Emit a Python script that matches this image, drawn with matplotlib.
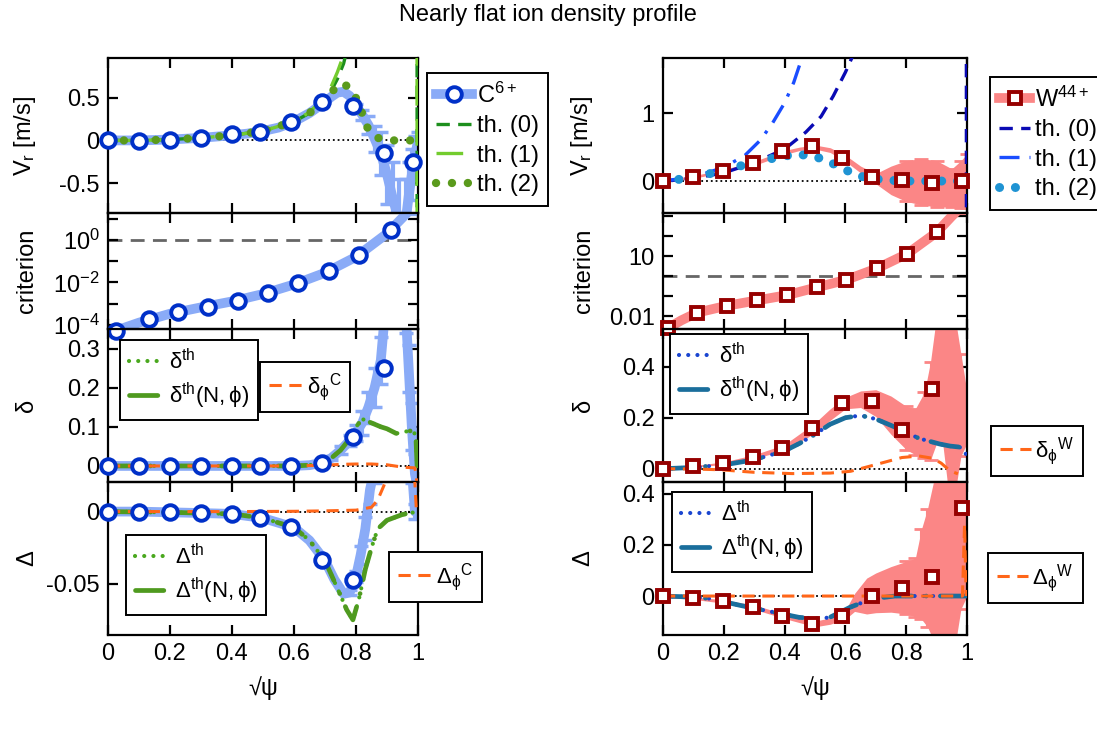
import matplotlib
matplotlib.use("Agg")
import matplotlib.pyplot as plt
from matplotlib.lines import Line2D

plt.rcParams['font.family'] = ['Liberation Sans', 'DejaVu Sans']
plt.rcParams['mathtext.fontset'] = 'custom'
plt.rcParams['mathtext.rm'] = 'Liberation Sans'
plt.rcParams['mathtext.it'] = 'Liberation Sans:italic'
plt.rcParams['mathtext.bf'] = 'Liberation Sans:bold'

FS = 17
LFS = 16

# ---------------- data : carbon (left) ----------------
c_mx = [0, 0.1, 0.2, 0.3, 0.4, 0.49, 0.59, 0.69, 0.79, 0.89, 0.985]
c_vr_m = [0, -0.005, 0.005, 0.03, 0.07, 0.10, 0.22, 0.45, 0.40, -0.145, -0.25]

c_sx = [0, 0.1, 0.2, 0.3, 0.4, 0.45, 0.5, 0.55, 0.6, 0.65, 0.7, 0.72, 0.74, 0.76,
        0.78, 0.8, 0.82, 0.84, 0.86, 0.88, 0.9, 0.92, 0.94, 0.96, 0.97, 0.98, 0.99, 1.0]
c_vr_s = [0, 0, 0.01, 0.03, 0.06, 0.08, 0.11, 0.15, 0.22, 0.32, 0.45, 0.51, 0.56, 0.57,
          0.52, 0.40, 0.30, 0.18, 0.02, -0.15, -0.40, -0.70, -0.95, -0.95, -0.65, -0.40, -0.20, 0.0]
c_vr_e = [0, 0, 0, 0, 0, 0, 0, 0, 0, 0, 0, 0, 0, 0,
          0, 0.03, 0.06, 0.10, 0.15, 0.25, 0.35, 0.45, 0.5, 0.5, 0.4, 0.3, 0.25, 0.1]

c_th_x = [0, 0.1, 0.2, 0.3, 0.4, 0.5, 0.6, 0.65, 0.7, 0.72, 0.74, 0.76, 0.8, 0.9, 0.996, 0.998]
c_th0 = [0, 0.0, 0.01, 0.03, 0.06, 0.11, 0.22, 0.32, 0.48, 0.58, 0.72, 0.90, 1.5, 4.0, 20.0, -20.0]
c_th1 = [0, 0.0, 0.01, 0.03, 0.06, 0.11, 0.22, 0.33, 0.51, 0.63, 0.80, 1.0, 1.7, 4.5, 20.0, -20.0]
c_th2_x = [0, 0.1, 0.2, 0.3, 0.4, 0.5, 0.6, 0.65, 0.7, 0.73, 0.76, 0.79, 0.81, 0.835, 0.86, 0.9, 0.95, 1.0]
c_th2 = [0, 0.0, 0.01, 0.03, 0.06, 0.11, 0.22, 0.32, 0.48, 0.60, 0.67, 0.57, 0.42, 0.16, 0.04, 0.0, 0.0, 0.0]

c_cr_mx = [0.025, 0.133, 0.227, 0.322, 0.418, 0.515, 0.612, 0.712, 0.81, 0.914]
c_cr_m = [-4.28, -3.75, -3.41, -3.14, -2.86, -2.49, -2.04, -1.48, -0.69, 0.48]   # log10
c_cr_sx = [0, 0.025, 0.1, 0.2, 0.3, 0.4, 0.5, 0.6, 0.7, 0.8, 0.9, 0.94, 0.97, 1.0]
c_cr_s = [-4.4, -4.28, -3.9, -3.48, -3.18, -2.9, -2.55, -2.1, -1.55, -0.8, 0.3, 0.9, 1.35, 1.35]

c_d_mx = [0, 0.1, 0.2, 0.3, 0.4, 0.49, 0.59, 0.69, 0.79, 0.89]
c_d_m = [0, 0, 0, 0, 0, 0, 0, 0.0075, 0.075, 0.25]
c_d_sx = [0, 0.1, 0.2, 0.3, 0.4, 0.5, 0.6, 0.65, 0.69, 0.72, 0.75, 0.78, 0.8, 0.82, 0.84,
          0.86, 0.88, 0.9, 0.95, 0.96, 0.97, 0.98, 0.99, 1.0]
c_d_s = [0, 0, 0, 0, 0, 0, 0.0, 0.002, 0.008, 0.02, 0.04, 0.065, 0.085, 0.11, 0.15,
         0.20, 0.27, 0.45, 0.45, 0.40, 0.25, 0.10, -0.02, -0.06]
c_d_e = [0, 0, 0, 0, 0, 0, 0, 0, 0, 0.005, 0.01, 0.015, 0.02, 0.03, 0.04,
         0.05, 0.06, 0.06, 0.06, 0.06, 0.06, 0.06, 0.05, 0.03]
c_dth_x = [0, 0.2, 0.4, 0.6, 0.65, 0.69, 0.72, 0.75, 0.78, 0.8, 0.82, 0.85, 0.88, 0.9,
           0.93, 0.96, 0.98, 0.993, 0.997]
c_dth = [0, 0, 0, 0, 0.002, 0.008, 0.02, 0.04, 0.07, 0.10, 0.12, 0.11, 0.10, 0.095,
         0.083, 0.088, 0.09, 0.08, 0.0]
c_dph_x = [0, 0.2, 0.4, 0.6, 0.7, 0.75, 0.8, 0.85, 0.9, 0.95, 0.99, 0.995, 1.0]
c_dph = [0, 0, 0, 0, 0.002, 0.004, 0.005, 0.005, 0.003, -0.003, -0.005, -0.03, -0.1]

c_D_mx = [0, 0.1, 0.2, 0.3, 0.4, 0.49, 0.59, 0.69, 0.79]
c_D_m = [0, 0, -0.0005, -0.001, -0.0016, -0.0042, -0.0109, -0.0337, -0.0477]
c_D_sx = [0, 0.1, 0.2, 0.3, 0.4, 0.5, 0.6, 0.65, 0.7, 0.73, 0.76, 0.78, 0.8, 0.815,
          0.83, 0.845, 0.86, 0.98, 0.99, 1.0]
c_D_s = [0, 0, -0.0005, -0.001, -0.0016, -0.0045, -0.011, -0.02, -0.034, -0.047, -0.057,
         -0.056, -0.045, -0.030, -0.012, 0.015, 0.03, 0.03, 0.0, 0.0]
c_D_e = [0, 0, 0, 0, 0, 0, 0, 0, 0, 0, 0, 0.002, 0.004, 0.006, 0.008, 0.01, 0.01, 0.01, 0.005, 0.0]
c_Dth_x = [0, 0.2, 0.4, 0.5, 0.6, 0.65, 0.7, 0.75, 0.77, 0.79, 0.81, 0.83, 0.85, 0.87,
           0.9, 0.95, 1.0]
c_Dth = [0, -0.0005, -0.0016, -0.0045, -0.011, -0.02, -0.034, -0.058, -0.068, -0.075,
         -0.06, -0.04, -0.025, -0.012, -0.006, -0.002, 0.0]
c_Dph_x = [0, 0.2, 0.4, 0.6, 0.7, 0.8, 0.85, 0.87, 0.89, 0.91, 0.985, 0.99, 0.995]
c_Dph = [0, 0, 0, 0.0002, 0.0005, 0.001, 0.003, 0.008, 0.018, 0.03, 0.03, 0.02, 0.0]

# ---------------- data : tungsten (right) ----------------
w_mx = [0, 0.098, 0.197, 0.295, 0.393, 0.49, 0.589, 0.686, 0.786, 0.885, 0.983]
w_vr_m = [0, 0.065, 0.15, 0.26, 0.44, 0.51, 0.34, 0.065, 0.015, -0.035, 0.0]
w_vr_bx = [0, 0.1, 0.2, 0.3, 0.4, 0.45, 0.5, 0.55, 0.6, 0.65, 0.7, 0.75, 0.8, 0.85,
           0.9, 0.95, 0.98, 1.0]
w_vr_hi = [0.02, 0.08, 0.17, 0.29, 0.45, 0.50, 0.53, 0.49, 0.38, 0.22, 0.11, 0.22, 0.30,
           0.33, 0.30, 0.18, 0.30, 0.40]
w_vr_lo = [-0.02, 0.04, 0.13, 0.23, 0.39, 0.45, 0.47, 0.42, 0.29, 0.12, -0.04, -0.20,
           -0.30, -0.35, -0.38, -0.38, -0.40, -0.40]
w_th0_x = [0, 0.1, 0.2, 0.3, 0.4, 0.47, 0.52, 0.56, 0.6, 0.625, 0.7, 0.9, 0.997, 0.999]
w_th0 = [0, 0.04, 0.12, 0.27, 0.47, 0.72, 0.95, 1.25, 1.6, 1.85, 3, 8, 20, -20]
w_th1_x = [0, 0.1, 0.2, 0.27, 0.32, 0.36, 0.4, 0.43, 0.46]
w_th1 = [0, 0.06, 0.2, 0.38, 0.6, 0.85, 1.15, 1.45, 1.85]
w_th2_x = [0, 0.042, 0.079, 0.115, 0.155, 0.188, 0.222, 0.262, 0.296, 0.33, 0.366, 0.402,
           0.44, 0.476, 0.513, 0.549, 0.583, 0.622, 0.656, 0.692, 0.73, 0.8, 0.9, 1.0]
w_th2 = [0, 0.015, 0.05, 0.08, 0.11, 0.15, 0.19, 0.23, 0.26, 0.30, 0.34, 0.37, 0.39,
         0.38, 0.34, 0.28, 0.20, 0.12, 0.065, 0.035, 0.015, 0.0, 0.0, 0.0]

w_cr_mx = [0.017, 0.113, 0.21, 0.31, 0.408, 0.506, 0.603, 0.703, 0.803, 0.9]
w_cr_m = [-2.58, -1.81, -1.47, -1.2, -0.94, -0.55, -0.175, 0.39, 1.12, 2.19]   # log10
w_cr_sx = [0, 0.017, 0.06, 0.113, 0.21, 0.31, 0.408, 0.506, 0.603, 0.703, 0.803, 0.9,
           0.95, 0.97, 1.0]
w_cr_s = [-2.8, -2.58, -2.2, -1.81, -1.47, -1.2, -0.94, -0.55, -0.175, 0.39, 1.12,
          2.19, 3.0, 3.3, 3.3]

w_d_mx = [0, 0.098, 0.197, 0.295, 0.393, 0.49, 0.589, 0.686, 0.786, 0.885]
w_d_m = [0, 0.009, 0.022, 0.048, 0.083, 0.161, 0.257, 0.267, 0.151, 0.312]
w_d_bx = [0, 0.1, 0.2, 0.3, 0.4, 0.5, 0.55, 0.6, 0.65, 0.7, 0.75, 0.8, 0.83, 0.86,
          0.88, 0.9, 0.92, 0.94, 0.96, 0.98, 1.0]
w_d_hi = [0, 0.012, 0.027, 0.055, 0.095, 0.18, 0.235, 0.28, 0.305, 0.31, 0.285, 0.245,
          0.235, 0.30, 0.42, 0.60, 0.60, 0.60, 0.60, 0.45, 0.30]
w_d_lo = [0, 0.006, 0.017, 0.04, 0.072, 0.14, 0.19, 0.235, 0.24, 0.205, 0.135, 0.075,
          0.055, 0.042, 0.035, 0.10, 0.10, -0.10, -0.10, 0.05, 0.10]
w_dth_x = [0, 0.1, 0.2, 0.3, 0.4, 0.45, 0.5, 0.549, 0.6, 0.65, 0.7, 0.75, 0.786, 0.842,
           0.91, 0.944, 0.975, 0.99, 1.0]
w_dth = [0, 0.005, 0.015, 0.035, 0.07, 0.10, 0.135, 0.174, 0.20, 0.209, 0.195, 0.17,
         0.151, 0.119, 0.097, 0.089, 0.085, 0.074, 0.048]
w_dph_x = [0, 0.1, 0.188, 0.3, 0.425, 0.55, 0.617, 0.696, 0.786, 0.842, 0.887, 0.915,
           0.944, 0.97]
w_dph = [0, -0.001, -0.004, -0.014, -0.019, -0.017, -0.01, 0.015, 0.044, 0.05, 0.041,
         0.022, -0.008, -0.02]

w_D_mx = [0, 0.098, 0.197, 0.295, 0.393, 0.49, 0.589, 0.686, 0.786, 0.885, 0.983]
w_D_m = [0, -0.008, -0.021, -0.043, -0.079, -0.109, -0.079, 0.0, 0.033, 0.075, 0.344]
w_D_bx = [0, 0.1, 0.2, 0.3, 0.4, 0.5, 0.55, 0.6, 0.63, 0.67, 0.7, 0.75, 0.8, 0.83,
          0.85, 0.87, 0.9, 0.93, 0.96, 0.98, 1.0]
w_D_hi = [0.005, -0.003, -0.015, -0.035, -0.07, -0.098, -0.085, -0.055, 0.01, 0.07,
          0.09, 0.115, 0.135, 0.147, 0.26, 0.34, 0.50, 0.50, 0.50, 0.50, 0.50]
w_D_lo = [-0.005, -0.013, -0.028, -0.052, -0.088, -0.12, -0.11, -0.09, -0.06, -0.07,
          -0.065, -0.063, -0.07, -0.08, -0.09, -0.12, -0.20, -0.20, -0.20, -0.05, 0.0]
w_Dth_x = [0, 0.1, 0.155, 0.256, 0.335, 0.447, 0.515, 0.549, 0.617, 0.65, 0.707, 0.763,
           0.85, 1.0]
w_Dth = [0, -0.004, -0.01, -0.037, -0.056, -0.083, -0.089, -0.083, -0.043, -0.028,
         -0.008, 0.0, 0.0, 0.0]
w_Dph_x = [0, 0.2, 0.4, 0.6, 0.8, 0.9, 0.985, 0.992, 0.997]
w_Dph = [0, 0, 0, 0, 0, 0, 0, 0.28, 0.0]

# ---------------- style ----------------
C_BAND = '#8aabf7'
C_MARK = '#0030c8'
W_BAND = '#fb8686'
W_MARK = '#960000'
ORANGE = '#ff6619'
G_TH0 = '#1d8f1d'
G_TH1 = '#73cc2e'
G_TH2 = '#5a9a1c'
G_DTH = '#4aa81e'
G_DNP = '#4f9a1f'
B_TH0 = '#0a0ab4'
B_TH1 = '#1a4dff'
B_TH2 = '#1f93d3'
B_DTH = '#1a45d0'
B_DNP = '#1a6e9c'

fig = plt.figure(figsize=(10.97, 7.34), dpi=100)
W, H = 1097.0, 734.0


def mkax(x0, x1, y0, y1):
    return fig.add_axes([x0 / W, 1 - y1 / H, (x1 - x0) / W, (y1 - y0) / H])


rows = [(58, 213), (213, 329), (329, 482), (482, 635)]
LX = (108, 418)
RX = (663, 967)

axL = [mkax(LX[0], LX[1], a, b) for a, b in rows]
axR = [mkax(RX[0], RX[1], a, b) for a, b in rows]

for i, ax in enumerate(axL + axR):
    ax.set_xlim(0, 1)
    ax.set_xticks([0, 0.2, 0.4, 0.6, 0.8, 1.0])
    ax.tick_params(direction='in', length=7, width=1.6, top=True, right=True,
                   labelsize=FS, pad=6)
    for s in ax.spines.values():
        s.set_linewidth(1.6)
    if i % 4 == 3:
        ax.set_xticklabels(['0', '0.2', '0.4', '0.6', '0.8', '1'])
    else:
        ax.set_xticklabels([])
    ax.set_facecolor('none')


def zero_line(ax):
    ax.plot([0, 1], [0, 0], ':', color='k', lw=1.3, zorder=1)


def leg(ax, handles, labels, x, y, hl=1.6, ls=0.3, fs=LFS):
    lg = ax.legend(handles, labels, loc='upper left', bbox_to_anchor=(x / W, 1 - y / H),
                   bbox_transform=fig.transFigure, borderaxespad=0, fancybox=False,
                   edgecolor='k', framealpha=1, fontsize=fs, handletextpad=0.2,
                   labelspacing=ls, borderpad=0.4, handlelength=hl)
    lg.get_frame().set_linewidth(1.4)
    return lg


def band_line(ax, x, y, e, color):
    ax.plot(x, y, '-', color=color, lw=7, solid_capstyle='round', zorder=2)
    xs = [a for a, b in zip(x, e) if b > 0]
    ys = [a for a, b in zip(y, e) if b > 0]
    es = [b for b in e if b > 0]
    ax.errorbar(xs, ys, yerr=es, fmt='none', ecolor=color, elinewidth=3, capsize=5,
                capthick=2.5, zorder=2)


def band_fill(ax, x, lo, hi, color):
    ax.fill_between(x, lo, hi, color=color, lw=0, zorder=2)
    mid = [(a + b) / 2 for a, b in zip(lo, hi)]
    err = [(b - a) / 2 for a, b in zip(lo, hi)]
    xs = [a for a in x if a >= 0.8]
    ms = [m for a, m in zip(x, mid) if a >= 0.8]
    es = [m for a, m in zip(x, err) if a >= 0.8]
    ax.errorbar(xs, ms, yerr=es, fmt='none', ecolor=color, elinewidth=1.5, capsize=5,
                capthick=2, zorder=2)


cmk = dict(marker='o', ms=10.5, mfc='white', mec=C_MARK, mew=2.8, ls='none', zorder=5,
           clip_on=False)
wmk = dict(marker='s', ms=8, mfc='white', mec=W_MARK, mew=2.8, ls='none', zorder=5,
           clip_on=False)
dot_c = dict(lw=6, dashes=(0.01, 1.9), dash_capstyle='round')
dot_w = dict(lw=6.5, dashes=(0.01, 1.75), dash_capstyle='round')

# ===== left column =====
ax = axL[0]
zero_line(ax)
band_line(ax, c_sx, c_vr_s, c_vr_e, C_BAND)
ax.plot(c_mx, c_vr_m, **cmk)
ax.plot(c_th_x, c_th0, color=G_TH0, lw=2.4, dashes=(4, 2.5), zorder=3)
ax.plot(c_th_x, c_th1, color=G_TH1, lw=2.4, dashes=(8, 4), zorder=3)
ax.plot(c_th2_x, c_th2, color=G_TH2, zorder=3, **dot_c)
ax.set_ylim(-0.85, 0.965)
ax.set_yticks([-0.5, 0, 0.5])
ax.set_yticklabels(['-0.5', '0', '0.5'])
ax.set_ylabel(r'$\mathrm{V_r\ [m/s]}$', fontsize=FS)
hC = [Line2D([], [], color=C_BAND, lw=7, marker='o', ms=10.5, mfc='white', mec=C_MARK, mew=2.8),
      Line2D([], [], color=G_TH0, lw=2.4, dashes=(4, 2.5)),
      Line2D([], [], color=G_TH1, lw=2.4, dashes=(8, 4)),
      Line2D([], [], color=G_TH2, **dot_c)]
leg(ax, hC, [r'$\mathrm{C^{6+}}$', 'th. (0)', 'th. (1)', 'th. (2)'], 427, 73, hl=1.5, ls=0.32,
    fs=FS)

ax = axL[1]
ax.set_yscale('log')
ax.plot([0, 1], [1, 1], color='#666666', lw=2, dashes=(5, 3), zorder=1)
ax.plot(c_cr_sx, [10 ** v for v in c_cr_s], '-', color=C_BAND, lw=7, zorder=2)
ax.plot(c_cr_mx, [10 ** v for v in c_cr_m], **cmk)
ax.set_ylim(10 ** -4.2, 10 ** 1.27)
ax.set_yticks([1e-4, 1e-3, 1e-2, 1e-1, 1e0, 1e1])
ax.set_yticklabels([r'$\mathrm{10^{-4}}$', '', r'$\mathrm{10^{-2}}$', '', r'$\mathrm{10^{0}}$', ''])
ax.minorticks_off()
ax.set_ylabel('criterion', fontsize=FS)

ax = axL[2]
zero_line(ax)
band_line(ax, c_d_sx, c_d_s, c_d_e, C_BAND)
ax.plot(c_dth_x, c_dth, color=G_DTH, lw=3, dashes=(0.01, 2.2), dash_capstyle='round', zorder=3)
ax.plot(c_dth_x, c_dth, color=G_DNP, lw=3.4, dashes=(6, 3, 0.01, 3), dash_capstyle='round', zorder=3)
ax.plot(c_dph_x, c_dph, color=ORANGE, lw=2.2, dashes=(4, 2.5), zorder=3)
ax.plot(c_d_mx, c_d_m, **cmk)
ax.set_ylim(-0.041, 0.35)
ax.set_yticks([0, 0.1, 0.2, 0.3])
ax.set_yticklabels(['0', '0.1', '0.2', '0.3'])
ax.set_ylabel('δ', fontsize=FS)
h1 = [Line2D([], [], color=G_DTH, lw=3, dashes=(0.01, 2.2), dash_capstyle='round'),
      Line2D([], [], color=G_DNP, lw=3.4, dashes=(6, 3, 0.01, 3), dash_capstyle='round')]
l1 = leg(ax, h1, [r'$\mathrm{δ^{th}}$', r'$\mathrm{δ^{th}(N,ϕ)}$'], 120, 340)
ax.add_artist(l1)
h2 = [Line2D([], [], color=ORANGE, lw=2.2, dashes=(4, 2.5))]
leg(ax, h2, [r'$\mathrm{δ_{ϕ}{}^{C}}$'], 260, 362, hl=1.5)

ax = axL[3]
zero_line(ax)
band_line(ax, c_D_sx, c_D_s, c_D_e, C_BAND)
ax.plot(c_Dth_x, c_Dth, color=G_DTH, lw=3, dashes=(0.01, 2.2), dash_capstyle='round', zorder=3)
ax.plot(c_Dth_x, c_Dth, color=G_DNP, lw=3.4, dashes=(6, 3, 0.01, 3), dash_capstyle='round', zorder=3)
ax.plot(c_Dph_x, c_Dph, color=ORANGE, lw=2.2, dashes=(4, 2.5), zorder=3)
ax.plot(c_D_mx, c_D_m, **cmk)
ax.set_ylim(-0.0855, 0.0205)
ax.set_yticks([-0.05, 0])
ax.set_yticklabels(['-0.05', '0'])
ax.set_ylabel('Δ', fontsize=FS)
l1 = leg(ax, h1, [r'$\mathrm{Δ^{th}}$', r'$\mathrm{Δ^{th}(N,ϕ)}$'], 126, 535)
ax.add_artist(l1)
leg(ax, h2, [r'$\mathrm{Δ_{ϕ}{}^{C}}$'], 389, 552, hl=1.5)
ax.set_xlabel('√ψ', fontsize=FS)

# ===== right column =====
ax = axR[0]
zero_line(ax)
band_fill(ax, w_vr_bx, w_vr_lo, w_vr_hi, W_BAND)
ax.plot(w_th0_x, w_th0, color=B_TH0, lw=2.4, dashes=(4, 2.5), zorder=3)
ax.plot(w_th1_x, w_th1, color=B_TH1, lw=2.4, dashes=(6, 3, 1, 3), zorder=3)
ax.plot(w_th2_x, w_th2, color=B_TH2, zorder=3, **dot_w)
ax.plot(w_mx, w_vr_m, **wmk)
ax.set_ylim(-0.47, 1.81)
ax.set_yticks([0, 1])
ax.set_yticklabels(['0', '1'])
ax.set_ylabel(r'$\mathrm{V_r\ [m/s]}$', fontsize=FS)
hW = [Line2D([], [], color=W_BAND, lw=7, marker='s', ms=8, mfc='white', mec=W_MARK, mew=2.8),
      Line2D([], [], color=B_TH0, lw=2.4, dashes=(4, 2.5)),
      Line2D([], [], color=B_TH1, lw=2.4, dashes=(6, 3, 1, 3)),
      Line2D([], [], color=B_TH2, **dot_w)]
leg(ax, hW, [r'$\mathrm{W^{44+}}$', 'th. (0)', 'th. (1)', 'th. (2)'], 990, 77, hl=1.3, ls=0.32,
    fs=FS)

ax = axR[1]
ax.set_yscale('log')
ax.plot([0, 1], [1, 1], color='#666666', lw=2, dashes=(5, 3), zorder=1)
ax.plot(w_cr_sx, [10 ** v for v in w_cr_s], '-', color=W_BAND, lw=7, zorder=2)
ax.plot(w_cr_mx, [10 ** v for v in w_cr_m], **wmk)
ax.set_ylim(10 ** -2.63, 10 ** 3.16)
ax.set_yticks([1e-2, 1e-1, 1e0, 1e1, 1e2, 1e3])
ax.set_yticklabels(['0.01', '', '', '10', '', ''])
ax.minorticks_off()
ax.set_ylabel('criterion', fontsize=FS)

ax = axR[2]
zero_line(ax)
band_fill(ax, w_d_bx, w_d_lo, w_d_hi, W_BAND)
ax.plot(w_dth_x, w_dth, color=B_DTH, lw=3, dashes=(0.01, 2.2), dash_capstyle='round', zorder=3)
ax.plot(w_dth_x, w_dth, color=B_DNP, lw=3.4, dashes=(6, 3, 0.01, 3), dash_capstyle='round', zorder=3)
ax.plot(w_dph_x, w_dph, color=ORANGE, lw=2.2, dashes=(4, 2.5), zorder=3)
ax.plot(w_d_mx, w_d_m, **wmk)
ax.set_ylim(-0.052, 0.548)
ax.set_yticks([0, 0.2, 0.4])
ax.set_yticklabels(['0', '0.2', '0.4'])
ax.set_ylabel('δ', fontsize=FS)
hb1 = [Line2D([], [], color=B_DTH, lw=3, dashes=(0.01, 2.2), dash_capstyle='round'),
       Line2D([], [], color=B_DNP, lw=3.4, dashes=(6, 3, 0.01, 3), dash_capstyle='round')]
l1 = leg(ax, hb1, [r'$\mathrm{δ^{th}}$', r'$\mathrm{δ^{th}(N,ϕ)}$'], 670, 334)
ax.add_artist(l1)
leg(ax, h2, [r'$\mathrm{δ_{ϕ}{}^{W}}$'], 991, 426, hl=1.4)

ax = axR[3]
zero_line(ax)
band_fill(ax, w_D_bx, w_D_lo, w_D_hi, W_BAND)
ax.plot(w_Dth_x, w_Dth, color=B_DTH, lw=3, dashes=(0.01, 2.2), dash_capstyle='round', zorder=3)
ax.plot(w_Dth_x, w_Dth, color=B_DNP, lw=3.4, dashes=(6, 3, 0.01, 3), dash_capstyle='round', zorder=3)
ax.plot(w_Dph_x, w_Dph, color=ORANGE, lw=2.2, dashes=(4, 2.5), zorder=3)
ax.plot(w_D_mx, w_D_m, **wmk)
ax.set_ylim(-0.152, 0.445)
ax.set_yticks([0, 0.2, 0.4])
ax.set_yticklabels(['0', '0.2', '0.4'])
ax.set_ylabel('Δ', fontsize=FS)
l1 = leg(ax, hb1, [r'$\mathrm{Δ^{th}}$', r'$\mathrm{Δ^{th}(N,ϕ)}$'], 672, 492)
ax.add_artist(l1)
leg(ax, h2, [r'$\mathrm{Δ_{ϕ}{}^{W}}$'], 988, 553, hl=1.4)
ax.set_xlabel('√ψ', fontsize=FS)

for ax in axL + axR:
    ax.yaxis.set_label_coords(-0.225, 0.5)
    ax.xaxis.set_label_coords(0.5, -0.27)

fig.text(548 / W, 1 - 15 / H, 'Nearly flat ion density profile', ha='center', va='center',
         fontsize=FS)

fig.savefig('out.png', dpi=100)
